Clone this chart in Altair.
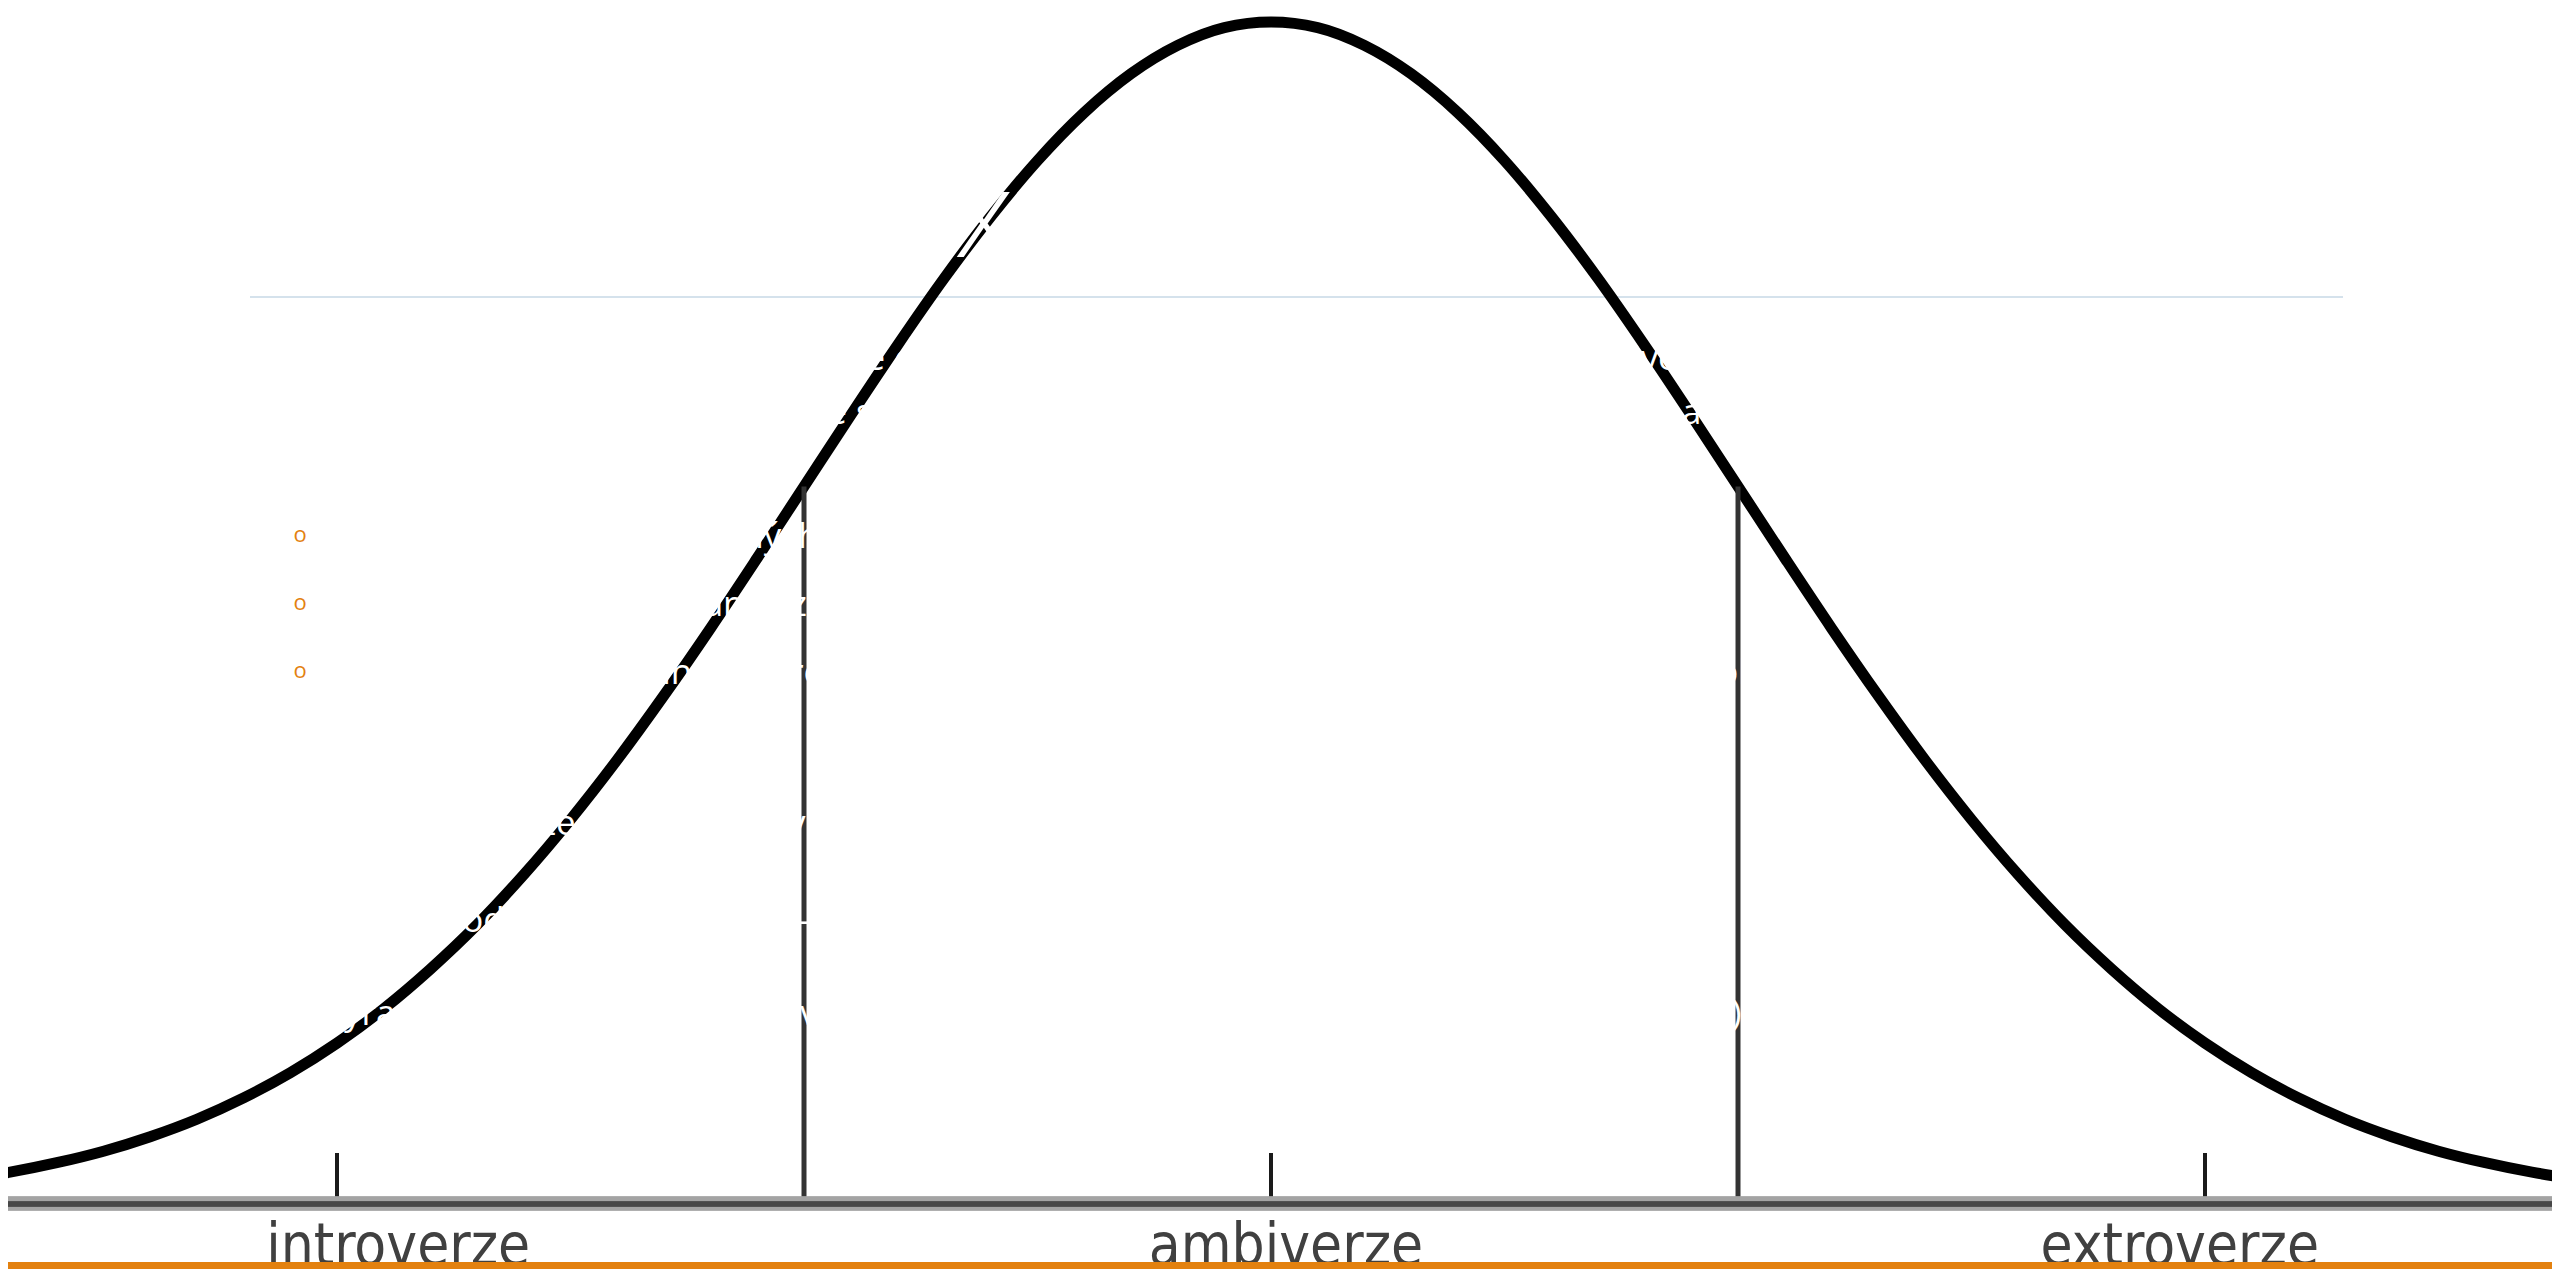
import altair as alt
import pandas as pd

# ---- data ----
# bell curve: position on the trait scale (SD units) and density
curve_z = [-2.8, -2.7, -2.6, -2.5, -2.4, -2.3, -2.2, -2.1, -2.0, -1.9, -1.8, -1.7, -1.6, -1.5,
           -1.4, -1.3, -1.2, -1.1, -1.0, -0.9, -0.8, -0.7, -0.6, -0.5, -0.4, -0.3, -0.2, -0.1,
           0.0, 0.1, 0.2, 0.3, 0.4, 0.5, 0.6, 0.7, 0.8, 0.9, 1.0, 1.1, 1.2, 1.3, 1.4, 1.5,
           1.6, 1.7, 1.8, 1.9, 2.0, 2.1, 2.2, 2.3, 2.4, 2.5, 2.6, 2.7, 2.8]
curve_d = [0.0079, 0.0104, 0.0136, 0.0175, 0.0224, 0.0283, 0.0355, 0.0440, 0.0540, 0.0656,
           0.0790, 0.0940, 0.1109, 0.1295, 0.1497, 0.1714, 0.1942, 0.2179, 0.2420, 0.2661,
           0.2897, 0.3123, 0.3332, 0.3521, 0.3683, 0.3814, 0.3910, 0.3970, 0.3989,
           0.3970, 0.3910, 0.3814, 0.3683, 0.3521, 0.3332, 0.3123, 0.2897, 0.2661, 0.2420,
           0.2179, 0.1942, 0.1714, 0.1497, 0.1295, 0.1109, 0.0940, 0.0790, 0.0656, 0.0540,
           0.0440, 0.0355, 0.0283, 0.0224, 0.0175, 0.0136, 0.0104, 0.0079]

divider_z = [-1.0, 1.0]
divider_top = [0.242, 0.242]

tick_z = [-2.0, 0.0, 2.0]

category_names = ["introverze", "ambiverze", "extroverze"]
category_pos = [-1.869, 0.032, 1.946]

title_text = "Hodnocení expozice II."
body_lines = [
    "Nepřímé metody založené na analýze chování a prožívání osobnosti v přirozených životních situacích a",
    "Přirozeným prostředím jsou pro ně situace, v nichž je člověk nucen jednat samostatně a svobodně",
    "odhalovat, kdo opravdu je:",
]
bullet_lines = [
    "pozorování chování v běžných životních situacích a při činnostech",
    "rozhovor, anamnéza a analýza výpovědí o sobě",
    "analýza produktů činnosti (kresby, písemné projevy), se zaměřením na rukopis, styl a obsah",
    "a řeči",
]
lower_lines = [
    "Projevy extraverze a introverze v chování",
    "Typologie podle temperamentu – jedinec se nachází kdekoli na škále",
    "od výrazné introverze přes ambiverzi až po výraznou extroverzi (normální rozložení křivky)",
]

# ---- layout ----
W, H = 2544, 1195
PAD_BOTTOM = 66

curve_df = pd.DataFrame({"z": curve_z, "d": curve_d})
div_df = pd.DataFrame({"z": divider_z, "top": divider_top})
tick_df = pd.DataFrame({"z": tick_z})
lab_df = pd.DataFrame({"name": category_names, "z": category_pos})

xs = alt.Scale(domain=[-2.7045, 2.743], nice=False, zero=False)
ys = alt.Scale(domain=[0, 0.40363], nice=False, zero=False)

curve = alt.Chart(curve_df).mark_line(
    color="#000000", strokeWidth=11, interpolate="monotone", clip=True
).encode(x=alt.X("z:Q", scale=xs, axis=None), y=alt.Y("d:Q", scale=ys, axis=None))

dividers = alt.Chart(div_df).mark_rule(color="#333333", strokeWidth=5).encode(
    x=alt.X("z:Q", scale=xs, axis=None),
    y=alt.Y("top:Q", scale=ys, axis=None),
    y2=alt.datum(0),
)

ticks = alt.Chart(tick_df).mark_rule(color="#1a1a1a", strokeWidth=4).encode(
    x=alt.X("z:Q", scale=xs, axis=None),
    y=alt.value(1145),
    y2=alt.value(H),
)

band_light = alt.Chart(tick_df).mark_rule(color="#a3a3a3", strokeWidth=14).encode(
    x=alt.value(0), x2=alt.value(W), y=alt.value(H + 0.5)
)
band_dark = alt.Chart(tick_df).mark_rule(color="#474747", strokeWidth=5).encode(
    x=alt.value(0), x2=alt.value(W), y=alt.value(H + 1)
)

labels = alt.Chart(lab_df).mark_text(
    font="DejaVu Sans Condensed, Liberation Sans Narrow, sans-serif",
    fontSize=58, color="#404040", align="center", baseline="alphabetic",
).encode(
    x=alt.X("z:Q", scale=xs, axis=None),
    y=alt.value(1257),
    text="name:N",
)

orange = alt.Chart(tick_df).mark_rule(color="#E3810F", strokeWidth=8).encode(
    x=alt.value(0), x2=alt.value(W), y=alt.value(1258)
)

sep_line = alt.Chart(tick_df).mark_rule(color="#d5e2ec", strokeWidth=2).encode(
    x=alt.value(242), x2=alt.value(2335), y=alt.value(289)
)


def txt(s, x, y, size, weight=400):
    return alt.Chart(pd.DataFrame({"t": [s]})).mark_text(
        font="Open Sans", fontSize=size, fontWeight=weight, color="#ffffff",
        align="left", baseline="alphabetic",
    ).encode(text="t:N", x=alt.value(x), y=alt.value(y))


text_layers = [txt(title_text, 253, 249, 121, 300)]
for s, y in zip(body_lines, [362, 416, 471]):
    text_layers.append(txt(s, 267, y, 35))
for s, y in zip(bullet_lines, [540, 608, 676, 730]):
    text_layers.append(txt(s, 323, y, 35))
for s, y in zip(lower_lines, [827, 924, 1017]):
    text_layers.append(txt(s, 267, y, 35))

bullets = alt.Chart(pd.DataFrame({"b": ["o", "o", "o"]})).mark_text(
    font="Open Sans", fontSize=22, color="#E3810F", align="center", baseline="middle"
).encode(
    text="b:N",
    x=alt.value(292),
    y=alt.Y("b2:Q", axis=None, scale=alt.Scale(domain=[0, H], range=[0, H])),
).transform_window(idx="row_number()").transform_calculate(
    b2="datum.idx == 1 ? 527 : (datum.idx == 2 ? 595 : 663)"
)

chart = alt.layer(
    sep_line, curve, dividers, ticks, band_light, band_dark, labels, orange,
    *text_layers, bullets,
).resolve_scale(y="independent").properties(
    width=W, height=H,
    padding={"left": 0, "top": 0, "right": 0, "bottom": PAD_BOTTOM},
    autosize=alt.AutoSizeParams(type="none"),
    background="#ffffff",
).configure_view(stroke=None)

chart.save("out.html", embed_options={"renderer": "svg", "actions": False})
